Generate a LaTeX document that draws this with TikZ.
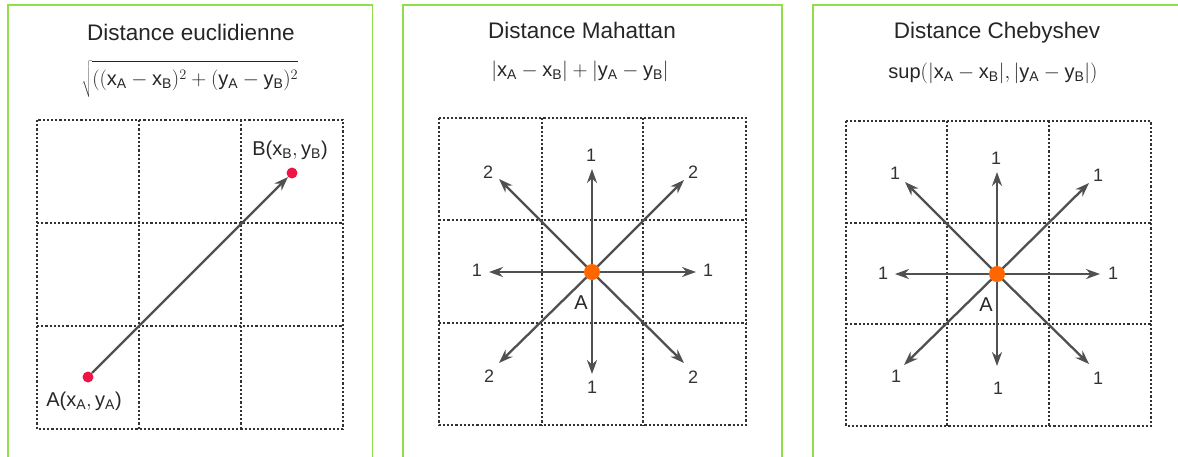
\documentclass[tikz,border=0pt]{standalone}
\usepackage{fontspec}
\setmainfont{Liberation Sans}
\setmathrm{Liberation Sans}
\usetikzlibrary{arrows.meta}
\definecolor{panelgreen}{RGB}{146,222,72}
\definecolor{arrgray}{RGB}{80,80,80}
\definecolor{gridgray}{RGB}{50,50,50}
\definecolor{dotred}{RGB}{238,20,70}
\definecolor{dotorange}{RGB}{255,102,0}
\begin{document}
\begin{tikzpicture}[x=1pt,y=-1pt,
  panel/.style={draw=panelgreen,line width=1.8pt},
  gridline/.style={draw=gridgray,line width=2.5pt,dash pattern=on 2.2pt off 2pt},
  title/.style={font=\fontsize{22.5}{26}\selectfont,text=black!85,inner sep=0pt},
  formula/.style={font=\fontsize{20}{23}\selectfont,text=black!85,inner sep=0pt},
  num/.style={font=\fontsize{18}{20}\selectfont,text=black!80,inner sep=0pt},
  ptlabel/.style={font=\fontsize{20}{22}\selectfont,text=black!85,inner sep=0pt},
  arr/.style={draw=arrgray,line width=2.3pt,-{Stealth[length=14pt,width=10pt]}},
  reddot/.style={circle,fill=dotred,inner sep=0pt,minimum size=11pt},
  orangedot/.style={circle,fill=dotorange,inner sep=0pt,minimum size=16pt}
]
\useasboundingbox (0,0) rectangle (1178,456);
% panels
\draw[panel] (8,470) -- (8,5) -- (372.5,5) -- (372.5,470);
\draw[panel] (403,470) -- (403,5) -- (782,5) -- (782,470);
\draw[panel] (813,470) -- (813,5) -- (1190,5);

% ---------- Panel 1 ----------
\node[title] (t1) at (191,32) {Distance euclidienne};
\node[formula] (f1) at (190,79) {$\sqrt{\vrule height 1.1em depth 0.5em width 0pt((\mathrm{x_A}-\mathrm{x_B})^2+(\mathrm{y_A}-\mathrm{y_B})^2}$};
\draw[gridline] (37,120) rectangle (343,429);
\draw[gridline] (139,120) -- (139,429) (241,120) -- (241,429);
\draw[gridline] (37,223) -- (343,223) (37,326) -- (343,326);
\node[reddot] (pA) at (88,377) {};
\node[reddot] (pB) at (292,173) {};
\draw[arr] (pA) -- (pB);
\node[ptlabel] (lA) at (84,401) {A($\mathrm{x_A},\mathrm{y_A}$)};
\node[ptlabel] (lB) at (290,150) {B($\mathrm{x_B},\mathrm{y_B}$)};

% ---------- Panel 2 ----------
\node[title] (t2) at (582,30) {Distance Mahattan};
\node[formula] (f2) at (580,71) {$|\mathrm{x_A}-\mathrm{x_B}|+|\mathrm{y_A}-\mathrm{y_B}|$};
\draw[gridline] (439,118) rectangle (746,425);
\draw[gridline] (542,118) -- (542,425) (643,118) -- (643,425);
\draw[gridline] (439,220) -- (746,220) (439,323) -- (746,323);
\coordinate (c2) at (592,272);
\coordinate (m2n) at (592,169);
\coordinate (m2s) at (592,374);
\coordinate (m2e) at (696,272);
\coordinate (m2w) at (489,272);
\coordinate (m2ne) at (684,180);
\coordinate (m2nw) at (499,179);
\coordinate (m2se) at (684,363);
\coordinate (m2sw) at (499,363);
\foreach \t in {m2n,m2s,m2e,m2w,m2ne,m2nw,m2se,m2sw}
  \draw[arr] (c2) -- (\t);
\node[orangedot] (A2) at (c2) {};
\node[ptlabel] (lA2) at (581,303) {A};
\node[num] (n2n) at (591,155) {1};
\node[num] (n2s) at (592,387) {1};
\node[num] (n2e) at (708,270) {1};
\node[num] (n2w) at (477,270) {1};
\node[num] (n2ne) at (693,172) {2};
\node[num] (n2nw) at (488,172) {2};
\node[num] (n2se) at (693,377) {2};
\node[num] (n2sw) at (489,376) {2};

% ---------- Panel 3 ----------
\node[title] (t3) at (997,33) {Distance Chebyshev};
\node[formula] (f3) at (993,73) {$\mathrm{sup}(|\mathrm{x_A}-\mathrm{x_B}|,|\mathrm{y_A}-\mathrm{y_B}|)$};
\draw[gridline] (846,121) rectangle (1151,426);
\draw[gridline] (947,121) -- (947,426) (1049,121) -- (1049,426);
\draw[gridline] (846,223) -- (1151,223) (846,324) -- (1151,324);
\coordinate (c3) at (997,274);
\coordinate (m3n) at (997,172);
\coordinate (m3s) at (997,366);
\coordinate (m3e) at (1100,274);
\coordinate (m3w) at (895,274);
\coordinate (m3ne) at (1089,183);
\coordinate (m3nw) at (905,182);
\coordinate (m3se) at (1089,364);
\coordinate (m3sw) at (904,365);
\foreach \t in {m3n,m3s,m3e,m3w,m3ne,m3nw,m3se,m3sw}
  \draw[arr] (c3) -- (\t);
\node[orangedot] (A3) at (c3) {};
\node[ptlabel] (lA3) at (986,305) {A};
\node[num] (n3n) at (996,158) {1};
\node[num] (n3s) at (998,388) {1};
\node[num] (n3e) at (1113,273) {1};
\node[num] (n3w) at (883,273) {1};
\node[num] (n3ne) at (1098,175) {1};
\node[num] (n3nw) at (895,173) {1};
\node[num] (n3se) at (1098,378) {1};
\node[num] (n3sw) at (896,376) {1};
\end{tikzpicture}
\end{document}
